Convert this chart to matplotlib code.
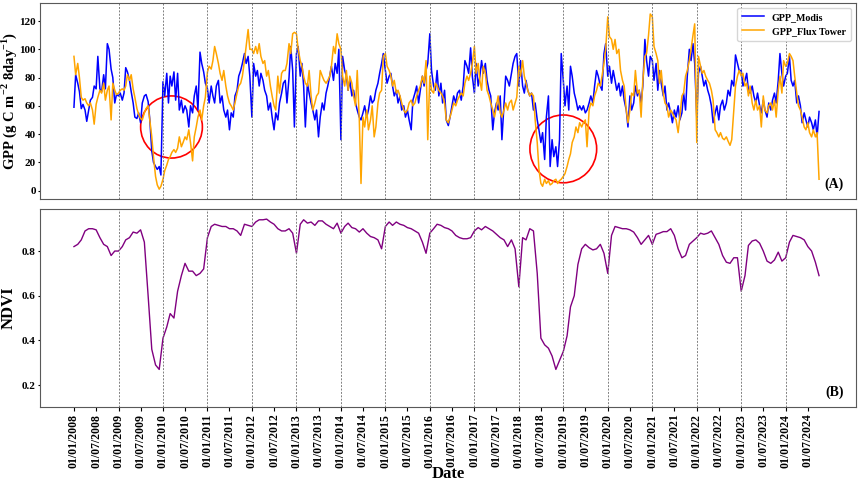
import matplotlib
matplotlib.use('Agg')
import matplotlib.pyplot as plt
import matplotlib.dates as mdates
from matplotlib.patches import Ellipse
import pandas as pd

# GPP, one value per half month (1st and 15th), Jan 2008 - Oct 2024
gpp_modis = [
    59, 82, 76, 70, 58, 61, 57, 49, 57, 64, 66, 74, 72, 95, 72, 70, 82, 72, 104, 100, 86, 80, 62, 68,  # 2008
    67, 69, 64, 69, 87, 84, 78, 70, 62, 52, 51, 55, 48, 62, 67, 68, 63, 50, 28, 20, 17, 15, 17, 11,  # 2009
    77, 67, 83, 62, 81, 74, 84, 64, 83, 57, 64, 55, 60, 57, 45, 60, 55, 67, 74, 57, 98, 90, 84, 76,  # 2010
    72, 62, 74, 67, 62, 74, 78, 62, 67, 57, 52, 57, 43, 55, 52, 67, 71, 81, 85, 90, 97, 90, 95, 81,  # 2011
    52, 90, 81, 85, 74, 83, 78, 71, 67, 57, 62, 52, 43, 55, 50, 62, 69, 76, 78, 62, 80, 102, 85, 45,  # 2012
    97, 102, 81, 90, 74, 45, 76, 69, 62, 57, 50, 57, 38, 52, 62, 57, 69, 74, 81, 88, 78, 90, 83, 100,  # 2013
    36, 95, 85, 81, 71, 78, 67, 71, 62, 57, 52, 50, 55, 60, 52, 57, 67, 62, 64, 71, 76, 83, 90, 97,  # 2014
    85, 76, 81, 83, 74, 67, 71, 62, 67, 57, 60, 52, 57, 50, 43, 64, 69, 74, 62, 71, 81, 74, 85, 90,  # 2015
    111, 85, 74, 71, 85, 67, 76, 62, 71, 50, 46, 52, 60, 67, 62, 69, 71, 64, 74, 92, 88, 83, 101, 81,  # 2016
    69, 90, 74, 81, 92, 83, 90, 78, 71, 67, 43, 55, 62, 57, 67, 36, 60, 81, 78, 74, 83, 90, 95, 97,  # 2017
    74, 92, 74, 69, 78, 71, 67, 69, 57, 62, 50, 43, 34, 41, 22, 52, 67, 17, 36, 24, 31, 17, 36, 97,  # 2018
    78, 60, 74, 57, 88, 81, 69, 64, 57, 60, 57, 60, 55, 57, 62, 67, 62, 74, 85, 81, 74, 71, 97, 104,  # 2019
    81, 88, 76, 85, 78, 71, 76, 67, 74, 64, 57, 45, 67, 57, 62, 74, 67, 71, 62, 74, 107, 92, 81, 95,  # 2020
    92, 78, 90, 71, 85, 76, 67, 74, 57, 62, 55, 48, 57, 52, 60, 50, 55, 69, 57, 81, 100, 92, 104, 90,  # 2021
    52, 83, 88, 81, 74, 78, 71, 67, 60, 48, 55, 60, 50, 60, 64, 57, 62, 71, 67, 78, 74, 96, 90, 85,  # 2022
    85, 74, 78, 83, 71, 69, 74, 67, 62, 69, 60, 55, 64, 57, 52, 62, 57, 64, 69, 62, 78, 97, 83, 74,  # 2023
    81, 83, 95, 78, 74, 78, 62, 67, 60, 48, 55, 50, 45, 52, 48, 43, 50, 38, 56,  # 2024
]

gpp_flux = [
    95, 82, 90, 80, 66, 64, 65, 62, 60, 62, 57, 47, 61, 66, 71, 69, 76, 64, 71, 74, 50, 76, 71, 68,  # 2008
    69, 71, 72, 71, 74, 82, 78, 82, 72, 66, 58, 54, 51, 50, 55, 58, 60, 50, 38, 24, 10, 4, 1, 3,  # 2009
    8, 14, 18, 22, 24, 27, 29, 27, 30, 38, 31, 34, 38, 36, 43, 34, 21, 38, 45, 52, 57, 50, 60, 66,  # 2010
    84, 88, 86, 92, 102, 97, 90, 83, 78, 85, 74, 67, 62, 60, 57, 62, 69, 74, 76, 81, 92, 102, 114, 100,  # 2011
    100, 97, 102, 97, 104, 95, 90, 92, 81, 85, 74, 67, 60, 57, 81, 69, 83, 85, 85, 90, 104, 97, 111, 112,  # 2012
    111, 100, 92, 88, 81, 76, 74, 85, 67, 57, 62, 67, 69, 85, 81, 78, 76, 78, 81, 88, 102, 97, 111, 104,  # 2013
    100, 81, 74, 85, 71, 81, 76, 67, 60, 85, 50, 5, 52, 45, 57, 43, 50, 60, 38, 45, 62, 69, 71, 95,  # 2014
    97, 88, 85, 81, 74, 78, 69, 71, 67, 62, 57, 55, 57, 62, 64, 60, 62, 67, 71, 74, 81, 76, 92, 36,  # 2015
    81, 71, 69, 76, 74, 71, 69, 67, 62, 50, 48, 52, 57, 62, 60, 64, 67, 69, 67, 76, 81, 78, 83, 90,  # 2016
    102, 83, 90, 78, 71, 88, 83, 71, 67, 62, 57, 52, 60, 67, 55, 52, 57, 62, 57, 62, 64, 57, 62, 66,  # 2017
    88, 81, 92, 81, 76, 71, 67, 69, 67, 50, 34, 15, 5, 3, 8, 5, 7, 4, 5, 7, 8, 5, 7, 8,  # 2018
    10, 12, 17, 22, 26, 34, 38, 45, 41, 48, 45, 48, 50, 31, 57, 62, 60, 67, 71, 76, 74, 81, 90, 100,  # 2019
    123, 109, 107, 100, 107, 97, 100, 85, 78, 74, 57, 48, 57, 69, 67, 85, 69, 71, 52, 78, 95, 97, 110, 125,  # 2020
    123, 102, 97, 92, 76, 85, 69, 62, 60, 52, 57, 55, 52, 50, 41, 52, 67, 69, 81, 85, 92, 100, 110, 118,  # 2021
    34, 95, 88, 83, 85, 81, 78, 76, 71, 64, 43, 41, 38, 41, 37, 36, 38, 35, 32, 36, 57, 74, 81, 85,  # 2022
    81, 83, 74, 76, 67, 74, 62, 57, 64, 57, 60, 45, 67, 57, 55, 60, 62, 57, 64, 52, 71, 81, 69, 92,  # 2023
    88, 90, 97, 95, 92, 81, 69, 60, 57, 52, 45, 43, 48, 41, 38, 43, 38, 41, 8,  # 2024
]

# NDVI, one value per month, Jan 2008 - Oct 2024
ndvi = [
    0.82, 0.83, 0.85, 0.89, 0.90, 0.90, 0.895, 0.86, 0.83, 0.82, 0.78, 0.80,  # 2008
    0.80, 0.82, 0.85, 0.86, 0.885, 0.88, 0.895, 0.84, 0.60, 0.36, 0.29, 0.27,  # 2009
    0.41, 0.46, 0.52, 0.50, 0.62, 0.69, 0.745, 0.71, 0.71, 0.69, 0.70, 0.72,  # 2010
    0.86, 0.91, 0.92, 0.915, 0.91, 0.91, 0.90, 0.90, 0.89, 0.87, 0.92, 0.915,  # 2011
    0.91, 0.93, 0.94, 0.94, 0.943, 0.93, 0.92, 0.90, 0.89, 0.89, 0.90, 0.88,  # 2012
    0.79, 0.92, 0.94, 0.925, 0.93, 0.915, 0.935, 0.935, 0.92, 0.91, 0.90, 0.925,  # 2013
    0.88, 0.91, 0.925, 0.905, 0.90, 0.885, 0.90, 0.88, 0.865, 0.86, 0.85, 0.81,  # 2014
    0.91, 0.93, 0.915, 0.93, 0.92, 0.915, 0.905, 0.90, 0.89, 0.88, 0.84, 0.79,  # 2015
    0.88, 0.90, 0.92, 0.915, 0.905, 0.90, 0.89, 0.87, 0.86, 0.855, 0.855, 0.86,  # 2016
    0.89, 0.905, 0.895, 0.91, 0.90, 0.89, 0.875, 0.86, 0.85, 0.82, 0.85, 0.81,  # 2017
    0.64, 0.86, 0.85, 0.90, 0.89, 0.70, 0.41, 0.38, 0.365, 0.33, 0.27, 0.31,  # 2018
    0.35, 0.42, 0.55, 0.60, 0.74, 0.81, 0.83, 0.815, 0.805, 0.81, 0.83, 0.79,  # 2019
    0.70, 0.87, 0.91, 0.905, 0.90, 0.90, 0.895, 0.885, 0.86, 0.83, 0.85, 0.87,  # 2020
    0.83, 0.875, 0.88, 0.887, 0.887, 0.90, 0.87, 0.81, 0.77, 0.78, 0.83, 0.845,  # 2021
    0.86, 0.88, 0.875, 0.88, 0.89, 0.86, 0.83, 0.78, 0.75, 0.745, 0.77, 0.77,  # 2022
    0.62, 0.69, 0.825, 0.845, 0.85, 0.835, 0.80, 0.755, 0.745, 0.76, 0.795, 0.755,  # 2023
    0.77, 0.84, 0.87, 0.865, 0.86, 0.85, 0.82, 0.80, 0.75, 0.69,  # 2024
]

grid_years = list(range(2009, 2025))

plt.rcParams['font.family'] = ['Liberation Serif', 'DejaVu Sans']
plt.rcParams['font.weight'] = 'bold'
plt.rcParams['axes.labelweight'] = 'bold'
plt.rcParams['mathtext.fontset'] = 'custom'
plt.rcParams['mathtext.rm'] = 'Liberation Serif:bold'
plt.rcParams['mathtext.bf'] = 'Liberation Serif:bold'


def main():
    gpp_dates = pd.date_range('2008-01-01', periods=len(gpp_modis), freq='SMS')
    ndvi_dates = pd.date_range('2008-01-01', periods=len(ndvi), freq='MS')
    ticks = pd.date_range('2008-01-01', '2024-07-01', freq='6MS')
    xlim = (pd.Timestamp('2007-03-28'), pd.Timestamp('2025-07-31'))

    fig = plt.figure(figsize=(8.58, 4.82), dpi=100)
    ax1 = fig.add_axes([0.0466, 0.5871, 0.951, 0.4073])
    ax2 = fig.add_axes([0.0466, 0.1562, 0.951, 0.4096])

    ax1.plot(gpp_dates, gpp_modis, color='blue', lw=1.1, label='GPP_Modis')
    ax1.plot(gpp_dates, gpp_flux, color='orange', lw=1.1, label='GPP_Flux Tower')
    ax2.plot(ndvi_dates, ndvi, color='purple', lw=1.0)

    for ax in (ax1, ax2):
        for y in grid_years:
            ax.axvline(pd.Timestamp(f'{y}-01-01'), color='0.5', lw=0.7, ls=(0, (2, 1.5)))
        ax.set_xlim(*xlim)
        ax.set_xticks(ticks)
        for s in ax.spines.values():
            s.set_color('0.35')
        ax.tick_params(axis='y', labelsize=8, length=1.5, pad=1.5)

    # red circles marking the drought periods
    c1 = Ellipse((mdates.date2num(pd.Timestamp('2010-03-12')), 45), 507, 44,
                 fill=False, color='red', lw=1.2)
    c2 = Ellipse((mdates.date2num(pd.Timestamp('2019-01-01')), 29.5), 548, 48,
                 fill=False, color='red', lw=1.2)
    ax1.add_patch(c1)
    ax1.add_patch(c2)

    ax1.set_ylim(-6, 133)
    ax1.set_yticks([0, 20, 40, 60, 80, 100, 120])
    ax1.tick_params(axis='x', length=0, labelbottom=False)
    ax1.set_ylabel(r'GPP (g C m$^{\mathbf{-2}}$ 8day$^{\mathbf{-1}}$)', fontsize=10.5)
    ax1.yaxis.set_label_coords(-0.026, 0.5)
    ax1.legend(loc='upper right', fontsize=7.2, frameon=True, borderpad=0.5, handlelength=2.2)
    ax1.text(0.985, 0.04, '(A)', transform=ax1.transAxes, ha='right', va='bottom', fontsize=10)

    ax2.set_ylim(0.103, 0.987)
    ax2.set_yticks([0.2, 0.4, 0.6, 0.8])
    ax2.set_xticklabels([t.strftime('%d/%m/%Y') for t in ticks], rotation=90, fontsize=8.5)
    ax2.tick_params(axis='x', length=3, pad=2)
    ax2.set_ylabel('NDVI', fontsize=12)
    ax2.yaxis.set_label_coords(-0.029, 0.5)
    ax2.set_xlabel('Date', fontsize=12)
    ax2.xaxis.set_label_coords(0.5, -0.3)
    ax2.text(0.985, 0.04, '(B)', transform=ax2.transAxes, ha='right', va='bottom', fontsize=10)

    fig.savefig('out.png', dpi=100)


if __name__ == "__main__":
    main()
